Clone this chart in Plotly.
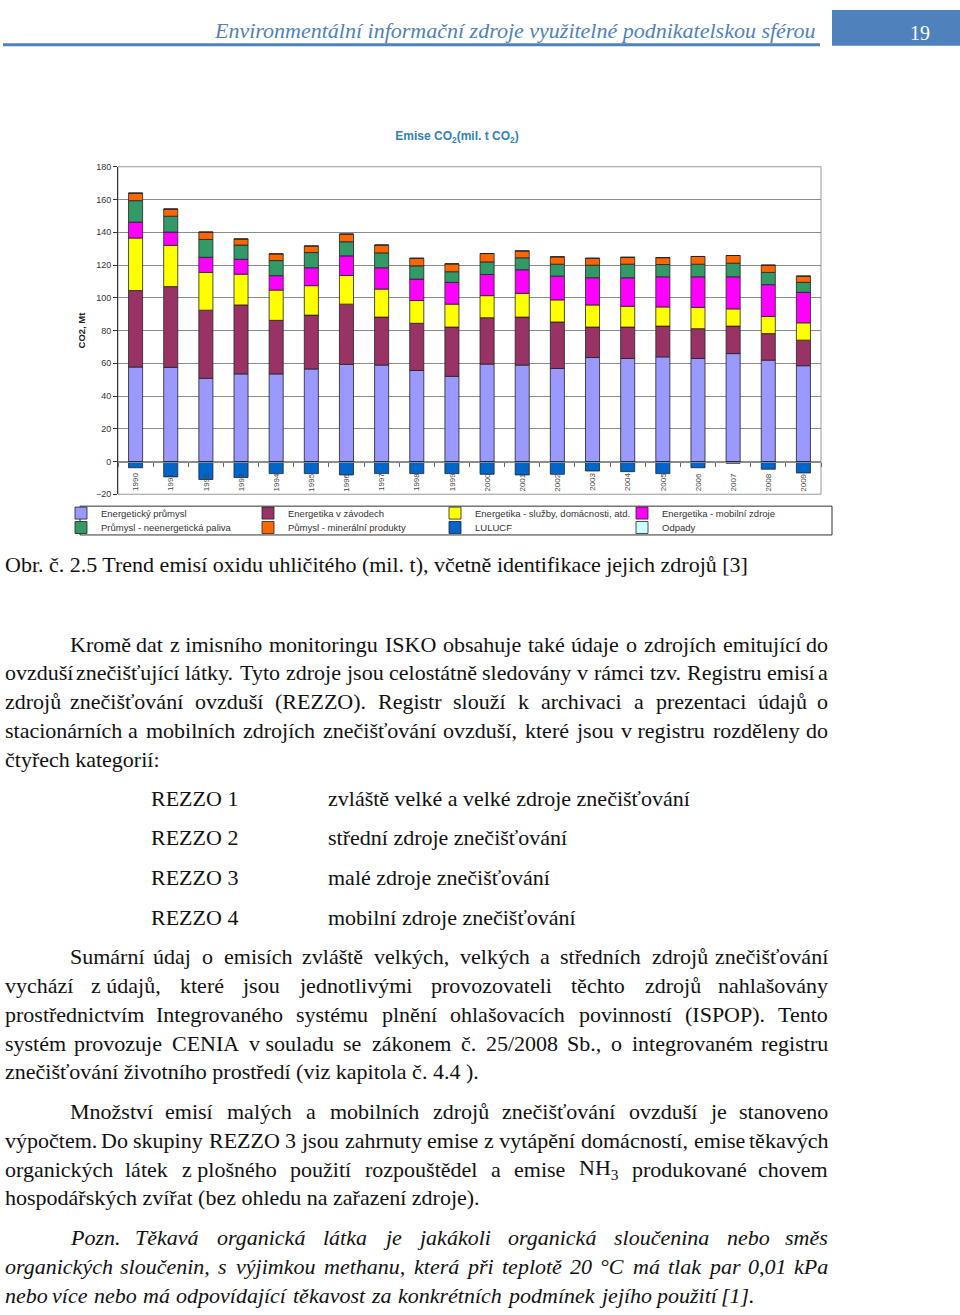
import unicodedata
import plotly.graph_objects as go

W, H = 960, 1315

# ---------------- DATA ----------------
years = [str(y) for y in range(1990, 2010)]
energeticky_prumysl = [57.7, 57.5, 50.8, 53.5, 53.5, 56.5, 59.3, 58.9, 55.6, 52.0,
                       59.5, 58.9, 56.8, 63.5, 62.9, 63.9, 62.9, 65.9, 61.9, 58.5]
energetika_zavody = [46.7, 49.3, 41.6, 42.1, 32.7, 32.9, 36.8, 29.3, 28.8, 30.1,
                     28.3, 29.3, 28.4, 18.6, 19.2, 18.8, 18.2, 16.8, 16.2, 15.6]
energetika_sluzby = [32.1, 25.2, 23.1, 18.8, 18.5, 18.0, 17.5, 17.1, 13.9, 14.0,
                     13.5, 14.5, 13.5, 13.5, 12.7, 11.7, 13.0, 10.5, 10.5, 10.6]
energetika_mobilni = [9.7, 8.1, 9.2, 9.1, 8.8, 10.9, 12.0, 13.0, 13.1, 13.3,
                      12.9, 14.4, 14.5, 16.6, 17.4, 18.4, 18.7, 19.6, 19.4, 18.6]
prumysl_paliva = [13.1, 9.7, 10.9, 8.7, 9.2, 9.3, 8.6, 9.1, 8.1, 6.5,
                  7.7, 7.3, 7.3, 7.7, 8.3, 7.5, 7.7, 8.3, 7.5, 6.1]
prumysl_mineralni = [4.6, 4.4, 4.5, 3.7, 4.1, 4.0, 4.7, 4.8, 4.6, 4.8,
                     5.1, 4.2, 4.5, 4.2, 4.2, 4.2, 4.7, 4.7, 4.4, 3.8]
lulucf = [-3.8, -9.4, -11.0, -9.8, -7.4, -7.4, -8.2, -7.4, -7.4, -7.4,
          -7.8, -8.2, -7.8, -5.8, -6.2, -7.4, -3.8, -1.1, -4.7, -7.0]
odpady = [0, 0, 0, 0, 0, 0, 0, 0, 0, 0, 0, 0, 0, 0, 0, 0, 0, 0, 0, 0]

series_names = ["Energetický průmysl", "Energetika v závodech",
                "Energetika - služby, domácnosti, atd.", "Energetika - mobilní zdroje",
                "Průmysl - neenergetická paliva", "Půmysl - minerální produkty",
                "LULUCF", "Odpady"]
series_values = [energeticky_prumysl, energetika_zavody, energetika_sluzby, energetika_mobilni,
                 prumysl_paliva, prumysl_mineralni, lulucf, odpady]
series_colors = ["#9999FF", "#993366", "#FFFF00", "#FF00FF",
                 "#339966", "#FF6600", "#0066CC", "#CCFFFF"]

chart_title = "Emise CO<sub>2</sub>(mil. t CO<sub>2</sub>)"
y_title = "<b>CO2, Mt</b>"

header_text = "Environmentální informační zdroje využitelné podnikatelskou sférou"
page_number = "19"
caption = "Obr. č. 2.5 Trend emisí oxidu uhličitého (mil. t), včetně identifikace jejich zdrojů [3]"

NB = "\u00a0"
# (text, left, right, y_center, justify, italic)
body_lines = [
    ("Kromě dat z" + NB + "imisního monitoringu ISKO obsahuje také údaje o zdrojích emitující do", 68, 830, 644, True, False),
    ("ovzduší znečišťující látky. Tyto zdroje jsou celostátně sledovány v rámci tzv. Registru emisí a", 3, 830, 673, True, False),
    ("zdrojů znečišťování ovzduší (REZZO). Registr slouží k archivaci a prezentaci údajů o", 3, 830, 702, True, False),
    ("stacionárních a mobilních zdrojích znečišťování ovzduší, které jsou v" + NB + "registru rozděleny do", 3, 830, 731, True, False),
    ("čtyřech kategorií:", 3, 830, 760, False, False),
    ("Sumární údaj o emisích zvláště velkých, velkých a středních zdrojů znečišťování", 68, 830, 959, True, False),
    ("vychází z" + NB + "údajů, které jsou jednotlivými provozovateli těchto zdrojů nahlašovány", 3, 830, 988, True, False),
    ("prostřednictvím Integrovaného systému plnění ohlašovacích povinností (ISPOP). Tento", 3, 830, 1017, True, False),
    ("systém provozuje CENIA v" + NB + "souladu se zákonem č. 25/2008 Sb., o integrovaném registru", 3, 830, 1046, True, False),
    ("znečišťování životního prostředí (viz kapitola č. 4.4 ).", 3, 830, 1075, False, False),
    ("Množství emisí malých a mobilních zdrojů znečišťování ovzduší je stanoveno", 68, 830, 1115, True, False),
    ("výpočtem. Do skupiny REZZO 3 jsou zahrnuty emise z" + NB + "vytápění domácností, emise těkavých", 3, 830, 1144, True, False),
    ("organických látek z" + NB + "plošného použití rozpouštědel a emise NH<sub>3</sub> produkované chovem", 3, 830, 1173, True, False),
    ("hospodářských zvířat (bez ohledu na zařazení zdroje).", 3, 830, 1202, False, False),
    ("Pozn. Těkavá organická látka je jakákoli organická sloučenina nebo směs", 68, 830, 1242, True, True),
    ("organických sloučenin, s výjimkou methanu, která při teplotě 20 °C má tlak par 0,01 kPa", 3, 830, 1271, True, True),
    ("nebo více nebo má odpovídající těkavost za konkrétních podmínek jejího použití [1].", 3, 757, 1300, True, True),
]
rezzo_labels = ["REZZO 1", "REZZO 2", "REZZO 3", "REZZO 4"]
rezzo_desc = ["zvláště velké a velké zdroje znečišťování", "střední zdroje znečišťování",
              "malé zdroje znečišťování", "mobilní zdroje znečišťování"]
rezzo_y = [800, 839, 879, 919]

# ---------------- helpers ----------------
def px(x):
    return x / W


def py(y):
    return 1 - y / H


REG = dict(zip("abcdefghijklmnopqrstuvwxyz",
               [444, 500, 444, 500, 444, 333, 500, 500, 278, 278, 500, 278, 778, 500, 500, 500, 500, 333, 389, 278,
                500, 500, 722, 500, 500, 444]))
REG.update(dict(zip("ABCDEFGHIJKLMNOPQRSTUVWXYZ",
                    [722, 667, 667, 722, 611, 556, 722, 722, 333, 389, 722, 611, 889, 722, 722, 556, 722, 667, 556,
                     611, 722, 722, 944, 722, 722, 611])))
ITA = dict(zip("abcdefghijklmnopqrstuvwxyz",
               [500, 500, 444, 500, 444, 278, 500, 500, 278, 278, 444, 278, 722, 500, 500, 500, 500, 389, 389, 278,
                500, 444, 667, 444, 444, 389]))
ITA.update(dict(zip("ABCDEFGHIJKLMNOPQRSTUVWXYZ",
                    [611, 611, 667, 722, 611, 611, 722, 722, 333, 444, 667, 556, 833, 667, 722, 611, 722, 611, 500,
                     556, 722, 611, 833, 611, 556, 556])))
for t in (REG, ITA):
    for d in "0123456789":
        t[d] = 500
    t.update({".": 250, ",": 250, ":": 278, ";": 278, "(": 333, ")": 333, "[": 333, "]": 333,
              "/": 278, "-": 333, "°": 400, " ": 250, NB: 250})
ITA.update({"[": 389, "]": 389, ":": 333})


def char_w(c, italic):
    table = ITA if italic else REG
    if c in ("ť",):
        return 340
    if c in table:
        return table[c]
    base = unicodedata.normalize("NFD", c)[0]
    return table.get(base, 500)


def word_w(word, italic):
    if "<sub>" in word:
        pre, rest = word.split("<sub>", 1)
        sub, post = rest.split("</sub>", 1)
        return (sum(char_w(c, italic) for c in pre) + 0.7 * sum(char_w(c, italic) for c in sub)
                + sum(char_w(c, italic) for c in post)) / 1000
    return sum(char_w(c, italic) for c in word) / 1000


annotations = []
FS = 22
SERIF = "Liberation Serif, Times New Roman, serif"
SANS = "Liberation Sans, Arial, sans-serif"


def add_text(text, x, y, anchor="left", size=FS, color="#111", italic=False):
    annotations.append(dict(
        text=("<i>" + text + "</i>") if italic else text,
        x=px(x), y=py(y), xref="paper", yref="paper",
        xanchor=anchor, yanchor="middle", showarrow=False,
        font=dict(family=SERIF, size=size, color=color)))


def place_line(text, left, right, y, justify, italic):
    if not justify:
        add_text(text, left, y, "left", italic=italic)
        return
    words = text.split(" ")
    ws = [word_w(w, italic) * FS for w in words]
    gap = (right - left - sum(ws)) / (len(words) - 1)
    x = left
    for i, w in enumerate(words):
        if i == 0:
            add_text(w, left, y, "left", italic=italic)
        elif i == len(words) - 1:
            add_text(w, right, y, "right", italic=italic)
        else:
            add_text(w, x + ws[i] / 2, y, "center", italic=italic)
        x += ws[i] + gap


# ---------------- figure ----------------
fig = go.Figure()
for i, (name, vals, col) in enumerate(zip(series_names, series_values, series_colors)):
    fig.add_trace(go.Bar(
        x=years, y=vals, name=name,
        marker=dict(color=col, line=dict(color="#222222", width=0.8)),
        legend="legend" if i < 4 else "legend2",
    ))

# year labels on the category axis (which crosses at zero); x is the category index
for idx, yr in enumerate(years):
    annotations.append(dict(
        text=yr, x=idx, y=-12.7, xref="x", yref="y", textangle=-90,
        xanchor="center", yanchor="middle", showarrow=False,
        font=dict(family=SANS, size=8, color="#444444")))

# page header
add_text("<i>" + header_text + "</i>", 818, 26, "right", size=22, color="#4F81BD")
add_text(page_number, 920, 28, "center", size=20, color="#FFFFFF")
# caption
add_text(caption, 3, 564, "left")
for (t, l, r, y, j, it) in body_lines:
    place_line(t, l, r, y, j, it)
for lab, desc, y in zip(rezzo_labels, rezzo_desc, rezzo_y):
    add_text(lab, 149, y, "left")
    add_text(desc, 326, y, "left")

shapes = [
    dict(type="line", xref="paper", yref="paper", x0=px(3), x1=px(820), y0=py(40), y1=py(40),
         line=dict(color="#4F81BD", width=3)),
    dict(type="rect", xref="paper", yref="paper", x0=px(832), x1=px(960), y0=py(41), y1=py(5),
         line=dict(width=0), fillcolor="#4F81BD"),
    dict(type="rect", xref="x domain", yref="y domain", x0=0, x1=1, y0=0, y1=1,
         line=dict(color="#9a9a9a", width=1), layer="below"),
    dict(type="rect", xref="paper", yref="paper", x0=px(80), x1=px(832), y0=py(534), y1=py(505),
         line=dict(color="#333333", width=1)),
]

legend_common = dict(orientation="h", xref="paper", yref="paper", xanchor="left", yanchor="middle",
                     bgcolor="rgba(0,0,0,0)", borderwidth=0, traceorder="normal",
                     entrywidth=142, entrywidthmode="pixels", itemwidth=30,
                     font=dict(family=SANS, size=9.5, color="#333333"))

fig.update_layout(
    width=W, height=H, margin=dict(l=0, r=0, t=0, b=0),
    paper_bgcolor="white", plot_bgcolor="white",
    barmode="relative", bargap=0.6,
    title=dict(text=chart_title, x=px(457), y=py(136), xanchor="center", yanchor="middle",
               font=dict(family=SANS, size=12, color="#3282B4", weight="bold")),
    xaxis=dict(domain=[px(118), px(821)], type="category", anchor="free", position=py(460.5),
               range=[-0.5, len(years) - 0.5],
               showline=True, linecolor="#8c8c8c", linewidth=1, ticks="outside", tickson="boundaries",
               ticklen=4, tickcolor="#666666", showticklabels=False, showgrid=False, zeroline=False),
    yaxis=dict(domain=[py(493), py(163)], range=[-20, 180], tick0=0, dtick=20,
               showgrid=True, gridcolor="#8c8c8c", gridwidth=1, zeroline=False,
               showline=True, linecolor="#333333", linewidth=1, ticks="outside", ticklen=4,
               tickcolor="#333333", tickfont=dict(family=SANS, size=9, color="#333333"),
               title=dict(text=y_title, standoff=8, font=dict(family=SANS, size=9.5, color="#222222"))),
    legend=dict(x=px(61), y=py(512), **legend_common),
    legend2=dict(x=px(61), y=py(526.5), **legend_common),
    shapes=shapes,
    annotations=annotations,
)

fig.write_html("out.html", config={"displayModeBar": False},
               post_script="document.body.style.margin='0';document.body.style.overflow='hidden';")
